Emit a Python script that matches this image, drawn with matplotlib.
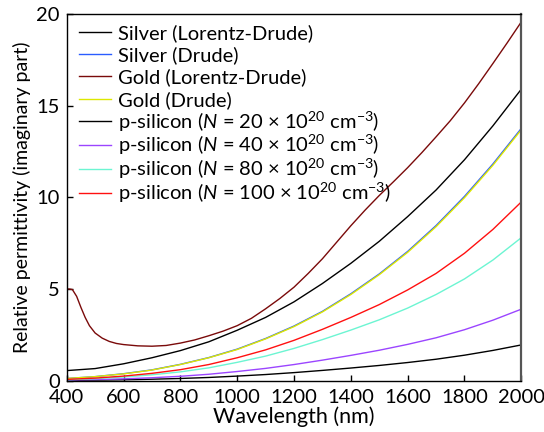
import matplotlib
matplotlib.use("Agg")
import matplotlib.pyplot as plt

plt.rcParams['font.family'] = ['Lato', 'DejaVu Sans']
plt.rcParams['mathtext.fontset'] = 'custom'
plt.rcParams['mathtext.rm'] = 'Lato'
plt.rcParams['mathtext.it'] = 'Lato:italic'

# ---- data ----
wl = [400, 500, 600, 700, 800, 900, 1000, 1100, 1200, 1300, 1400,
      1500, 1600, 1700, 1800, 1900, 2000]

silver_ld = [0.55, 0.66, 0.92, 1.25, 1.64, 2.12, 2.75, 3.45, 4.30, 5.30, 6.40,
             7.60, 8.95, 10.40, 12.05, 13.90, 15.90]
silver_drude = [0.12, 0.22, 0.38, 0.59, 0.89, 1.26, 1.72, 2.30, 2.98, 3.78, 4.74,
                5.82, 7.05, 8.46, 10.05, 11.82, 13.76]
gold_drude = [0.12, 0.22, 0.37, 0.58, 0.88, 1.25, 1.70, 2.28, 2.95, 3.75, 4.70,
              5.78, 7.00, 8.40, 9.98, 11.75, 13.69]
psi_20 = [0.014, 0.03, 0.05, 0.08, 0.12, 0.175, 0.25, 0.335, 0.44, 0.56, 0.69,
          0.83, 0.99, 1.17, 1.39, 1.65, 1.95]
psi_40 = [0.03, 0.06, 0.10, 0.16, 0.24, 0.35, 0.50, 0.67, 0.88, 1.12, 1.38,
          1.66, 1.98, 2.34, 2.78, 3.30, 3.90]
psi_80 = [0.05, 0.11, 0.20, 0.32, 0.48, 0.70, 1.00, 1.34, 1.76, 2.24, 2.76,
          3.32, 3.96, 4.70, 5.55, 6.58, 7.80]
psi_100 = [0.07, 0.14, 0.25, 0.40, 0.60, 0.88, 1.25, 1.68, 2.20, 2.80, 3.45,
           4.15, 4.95, 5.85, 6.95, 8.25, 9.75]

wl_gold = [400, 410, 420, 435, 450, 465, 480, 500, 525, 550, 575, 600, 650, 700,
           750, 800, 850, 900, 950, 1000, 1050, 1100, 1150, 1200, 1250, 1300,
           1350, 1400, 1450, 1500, 1550, 1600, 1650, 1700, 1750, 1800, 1850,
           1900, 1950, 2000]
gold_ld = [5.00, 5.00, 4.97, 4.60, 4.00, 3.45, 3.00, 2.60, 2.32, 2.14, 2.03, 1.97,
           1.90, 1.88, 1.92, 2.05, 2.22, 2.45, 2.70, 3.00, 3.40, 3.92, 4.48, 5.10,
           5.85, 6.65, 7.55, 8.45, 9.30, 10.10, 10.85, 11.62, 12.44, 13.30, 14.18,
           15.15, 16.20, 17.30, 18.42, 19.57]

labels = ['Silver (Lorentz-Drude)', 'Silver (Drude)', 'Gold (Lorentz-Drude)',
          'Gold (Drude)',
          r'p-silicon ($N$ = 20 × 10$^{20}$ cm$^{-3}$)',
          r'p-silicon ($N$ = 40 × 10$^{20}$ cm$^{-3}$)',
          r'p-silicon ($N$ = 80 × 10$^{20}$ cm$^{-3}$)',
          r'p-silicon ($N$ = 100 × 10$^{20}$ cm$^{-3}$)']
colors = ['#000000', '#2a5cff', '#7a0a0a', '#dde800',
          '#000000', '#9b45ff', '#6cf5d2', '#ff1010']
xticks = [400, 600, 800, 1000, 1200, 1400, 1600, 1800, 2000]
yticks = [0, 5, 10, 15, 20]

fig = plt.figure(figsize=(5.44, 4.32), dpi=100)
ax = fig.add_axes([0.1226, 0.1188, 0.8357, 0.8488])

series = [(wl, silver_ld), (wl, silver_drude), (wl_gold, gold_ld), (wl, gold_drude),
          (wl, psi_20), (wl, psi_40), (wl, psi_80), (wl, psi_100)]
handles = []
for (x, y), lab, c in zip(series, labels, colors):
    h, = ax.plot(x, y, color=c, lw=1.0, label=lab)
    handles.append(h)

ax.set_xlim(400, 2000)
ax.set_ylim(0, 20)
ax.set_xticks(xticks)
ax.set_yticks(yticks)
ax.tick_params(direction='in', length=4, width=1, labelsize=14.5,
               top=False, right=False)
ax.tick_params(axis='x', pad=6)
ax.tick_params(axis='y', pad=5)
for s in ['left', 'bottom', 'top']:
    ax.spines[s].set_linewidth(1.0)
ax.spines['right'].set_linewidth(1.6)
ax.spines['right'].set_color('#555555')

ax.set_xlabel('Wavelength (nm)', fontsize=15.5, labelpad=0)
ax.set_ylabel('Relative permittivity (imaginary part)', fontsize=14, labelpad=4)

common = dict(loc='upper left', frameon=False, fontsize=14.5, handlelength=1.6,
              handletextpad=0.35, borderaxespad=0, borderpad=0)
leg1 = ax.legend(handles[:4], labels[:4], bbox_to_anchor=(0.027, 0.973),
                 labelspacing=0.22, **common)
ax.add_artist(leg1)
leg2 = ax.legend(handles[4:], labels[4:], bbox_to_anchor=(0.027, 0.740),
                 labelspacing=-0.02, **common)

fig.savefig('out.png', dpi=100)
